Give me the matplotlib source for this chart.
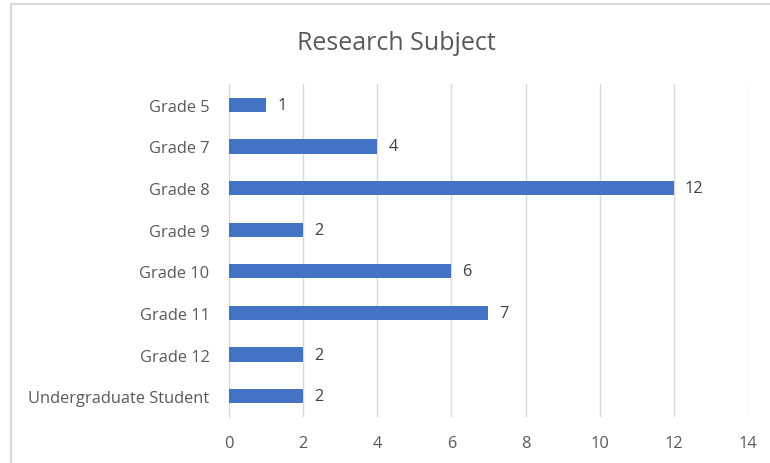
import matplotlib
matplotlib.use("Agg")
import matplotlib.pyplot as plt
from matplotlib.patches import Rectangle

categories = ["Grade 5", "Grade 7", "Grade 8", "Grade 9", "Grade 10",
              "Grade 11", "Grade 12", "Undergraduate Student"]
counts = [1, 4, 12, 2, 6, 7, 2, 2]
xticks = [0, 2, 4, 6, 8, 10, 12, 14]

plt.rcParams['font.family'] = ['Open Sans', 'DejaVu Sans']
text_col = '#595959'
grid_col = '#D9D9D9'

fig = plt.figure(figsize=(7.7, 4.64), dpi=100)
ax = fig.add_axes([229/770, 1-418/464, (748-229)/770, (418-85)/464])

# outer chart border
fig.patches.append(Rectangle((11/770, -0.05), 1.2, 1-5/464+0.05,
                             transform=fig.transFigure, fill=False,
                             edgecolor=grid_col, linewidth=1.5))

ypos = list(range(len(categories)))
ax.barh(ypos, counts, height=0.34, color='#4472C4', zorder=3)
for y, v in zip(ypos, counts):
    ax.text(v + 0.3, y, str(v), va='center', ha='left', fontsize=11.8, color='#404040')

ax.set_xlim(0, 14)
ax.set_ylim(len(categories) - 0.5, -0.5)
ax.set_xticks(xticks)
ax.set_yticks(ypos)
ax.set_yticklabels(categories)
ax.tick_params(axis='both', length=0, colors=text_col, labelsize=11.8)
ax.tick_params(axis='x', pad=13)
ax.tick_params(axis='y', pad=14)
ax.grid(axis='x', color=grid_col, linewidth=1, zorder=0)
for s in ['top', 'right', 'bottom']:
    ax.spines[s].set_visible(False)
ax.spines['left'].set_color(grid_col)

fig.text(396/770, 1-43/464, 'Research Subject', ha='center', va='center',
         fontsize=18, color=text_col)

plt.savefig('out.png', dpi=100)
